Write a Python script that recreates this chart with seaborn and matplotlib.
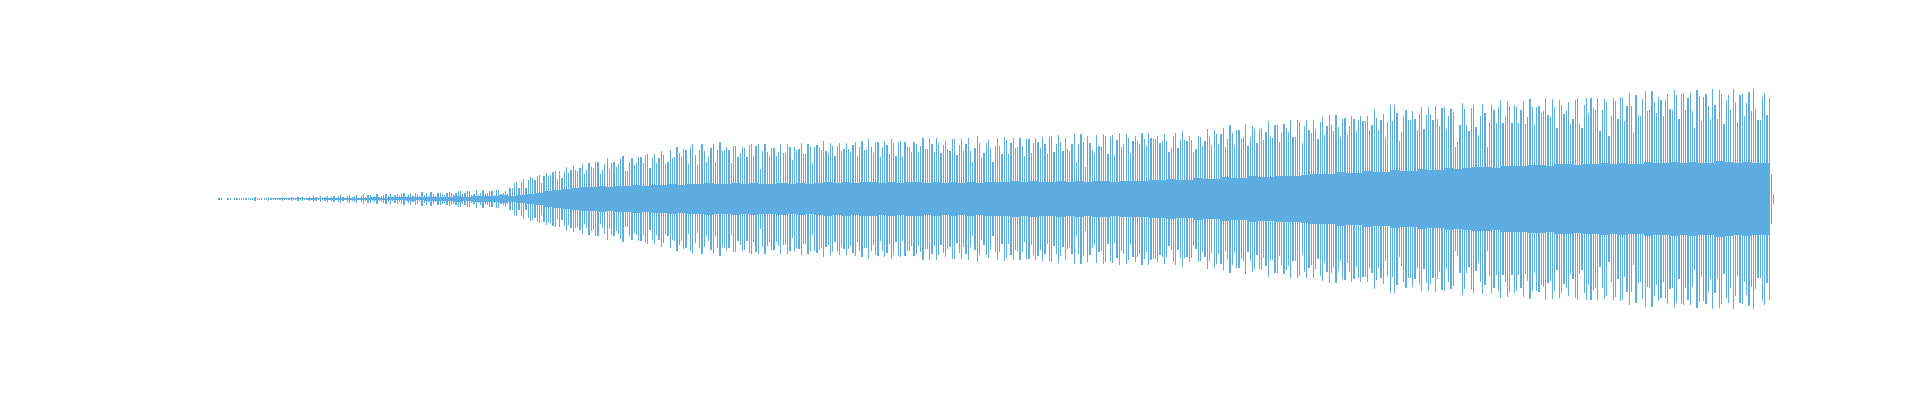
import numpy as np
import matplotlib
matplotlib.use("Agg")
import matplotlib.pyplot as plt
import seaborn as sns

# half-heights of the tall bars (mirrored about zero), read left to right
seg_a = [1,1,0,0,1,1,0,1,1,1,1,1,1,1,1,1,2,1,1,1,
         1,1,2,1,1,1,1,1,2,1,1,1,2,1,1,2,1,2,1,1,
         2,1,3,2,1,3,1,2,3,1,2,3,1,3,4,2,1,3,4,2,
         3,4,1,3,5,2,4,4,2,3,5,2,3,4,5,3,5,2,4,5,
         3,5,6,2,4,6,3,6,5,3,7,4,6,3,7,5]
seg_b = [3,6,6,5,4,6,7,6,5,6,8,8,5,6,8,8,4,5,9,4,6,9,5,6,8,8,4,9,9,5,6,8,5,11,11,
         16,17,11,17,20,11,19,22,21,19,23,24,16,23,26,23,24,27,28,20,28]
seg_c = [21,27,32,26,29,33,29,28,31,35,25,29,36,32,31,37,37,25,29,35,41,30,36,37,32,35,40,43,28,28,
         37,41,34,36,42,42,36,44,45,31,41,45,36,41,48,44,35,37,49,41,42,52,46,42,50,49,35,52,55]
seg_d = [44,34,49,55,48,37,42,51,55,37,49,57,48,49,52,49,36,53,53,42,46,52,51,42,54,55,43,
         53,55,30,48,55,47,43,51,51,43,47,55,46,46,55,52,39,52,49,50,56,45,45,55,52,36]
seg_e = [52,54,51,49,58,48,46,56,53,43,53,56,48,50,56,50,47,54,57,43,52,58,49,49,60,52,46,56,57,42,
         52,58,54,45,60,56,43,57,58,42,57,52,52,47,57,55,47,53,61,50,50,61,55,47,61,56,46,54,58,50,
         48,60,60,44,54,60,48,55,61,48]
seg_f = [37,51,63,56,41,46,56,59,51,37,53,61,53,45,62,59,45,56,61,51,52,61,53,43,60,60,46,56,61,57,
         51,62,55,45,62,63,47,55,64,57,48,61,50,48,55,65,37,55,65,57,32,63,56,49,46,64,53,52,65,63,
         45,62,64,44,59,66,52,55,65,61,46,58]
seg_g = [63,58,55,66,60,53,66,61,60,60,63,56,58,65,58,47,51,63,66,51,59,68,59,58,63,59,47,50,63,62,
         53,58,70,62,54,69,65,55,65,71,52,60,74,66,54,69,69,60,62,75,53,62,73,70,56,70,71,59,67,78,
         62,61,74,74,57,66,75,71,67,79,62,62]
seg_h = [79,77,56,73,79,69,66,79,70,60,77,82,64,73,84,74,68,84,72,62,80,81,64,73,83,80,68,79,83,78,
         78,83,69,74,90,81,69,79,85,62,77,94,78,94,86,58,67,83,89,79,79,88,80,69,85,92,70,84,92,85,
         79,93,80,73,91,92,70,83,90,87]
seg_i = [52,57,74,96,90,74,68,91,94,72,64,83,95,86,52,77,94,89,76,92,99,76,83,98,93,76,94,92,76,89,
         98,75,82,100,92,74,92,93,86,88,101,84,82,100,92,71,99,94,85,89,97,75,80,99,101,75,71,94,101,86,
         101,91,89,101]
seg_j = [68,89,100,97,63,83,101,98,80,102,101,78,93,106,93,66,104,84,83,100,108,88,89,108,97,86,102,99,83,99,
         105,90,89,109,104,80,105,106,89,101,106,88,71,109,103,78,102,105,93,80,110,94,80,109,105,75,99,104,89,110,
         97,77,104,105,83,96,107,88,110,90,79,79,102,106,84,101,25,5]
tops = seg_a + seg_b + seg_c + seg_d + seg_e + seg_f + seg_g + seg_h + seg_i + seg_j

# half-heights of the solid central band, one value per four tall bars
core_a = [0,0,0,0,0,0,0.5,0.5,0.5,0.5,1,0.5,1,1,1,1,1,1.5,1,1.5,1.5,2,1.5,2]
core_b = [2,2,3,2,3,3,3,4,3,4,5,6,8,9]
core_c = [10,11,12,12,13,12,13,13,14,13,14,14,15,14,15]
core_d = [15,16,15,15,16,15,16,15,15,16,15,16,15]
core_e = [16,17,16,17,16,17,17,16,17,16,17,17,16,17,16,17,16,17]
core_f = [16,17,17,17,18,17,18,17,17,18,17,18,17,18,18,17,18,18]
core_g = [18,19,19,20,19,19,21,20,20,22,21,21,23,22,22,23,23,23]
core_h = [24,25,25,25,27,26,26,28,27,27,29,28,28,30,29,29,31,30]
core_i = [31,32,32,31,33,33,33,34,34,33,35,35,34,35,35,36]
core_j = [35,36,35,35,37,36,36,37,36,37,36,36,38,37,36,37,36,36]
core = core_a + core_b + core_c + core_d + core_e + core_f + core_g + core_h + core_i + core_j

COLOR = "#5DADE2"
N = len(tops)
x_tops = np.arange(N)
x_core = np.arange(len(core)) * 4 + 1.5

sns.set_theme(style="white")
fig = plt.figure(figsize=(19.2, 4.0), dpi=100)
ax = fig.add_axes([0, 0, 1, 1])
for sign in (1, -1):
    sns.barplot(x=x_tops, y=sign * np.array(tops, dtype=float), native_scale=True,
                color=COLOR, saturation=1, width=0.55, linewidth=0, errorbar=None, ax=ax)
    sns.barplot(x=x_core, y=sign * np.array(core, dtype=float), native_scale=True,
                color=COLOR, saturation=1, width=1.0, linewidth=0, errorbar=None, ax=ax)
step = (1776 - 219) / N
ax.set_xlim(-219 / step, (1920 - 219) / step)
ax.set_ylim(-201, 199)
ax.axis("off")
fig.savefig("out.png", dpi=100, facecolor="white")
